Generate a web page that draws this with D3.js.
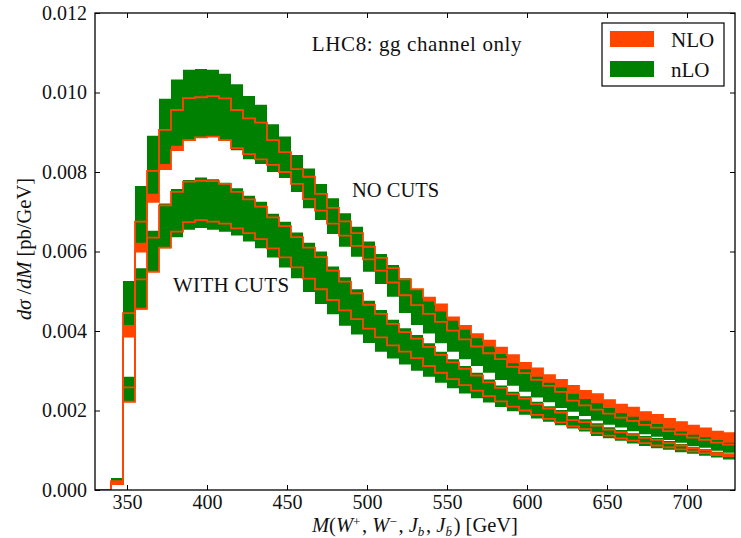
<!DOCTYPE html>
<html><head><meta charset="utf-8">
<script src="https://cdn.jsdelivr.net/npm/d3@7"></script>
<style>body{margin:0;background:#fff}text{font-family:"Liberation Serif","Times New Roman",serif;fill:#111}</style>
</head><body><svg id="c" width="741" height="538"></svg>
<script>
// ---- data ----
const binLow = 340, binWidth = 7.5; // bins 340-347.5, ... , 722.5-730
const xTicks = [350,400,450,500,550,600,650,700];
const yTicks = [0,0.002,0.004,0.006,0.008,0.010,0.012];
const legendLabels = ["NLO","nLO"];

// NO CUTS, nLO band (green)
const noCutsnLOLow = [0.00015,0.00415,0.00622,0.00745,0.0082,0.00866,0.00882,0.00888,0.00889,0.0088,0.00855,0.00832,0.0082,0.008,0.00785,0.0075,0.00709,0.00679,0.00644,0.00612,0.00587,0.00549,0.00518,0.00486,0.00445,0.00415,0.00394,0.00369,0.00348,0.00329,0.00312,0.00295,0.00277,0.00262,0.00247,0.00233,0.00221,0.00206,0.00197,0.00186,0.00174,0.00164,0.00157,0.00148,0.0014,0.00134,0.00126,0.00119,0.00111,0.00106,0.00099,0.00094];
const noCutsnLOHigh = [0.0003,0.00526,0.00765,0.00891,0.00984,0.01033,0.01057,0.01059,0.01057,0.01047,0.01021,0.00991,0.00969,0.0092,0.00889,0.00843,0.00809,0.0077,0.00734,0.00696,0.00662,0.00625,0.00594,0.00566,0.00533,0.00503,0.00474,0.00449,0.00426,0.00403,0.00382,0.00361,0.00342,0.00319,0.00304,0.00285,0.0027,0.00258,0.00242,0.00229,0.00218,0.00206,0.00193,0.00184,0.00174,0.00166,0.00155,0.00147,0.00139,0.00133,0.00126,0.00119];
// NO CUTS, NLO band (orange)
const noCutsNLOLow = [0.00015,0.00386,0.006,0.00725,0.00807,0.00855,0.0088,0.00887,0.00889,0.0088,0.0086,0.00845,0.00832,0.00818,0.008,0.0077,0.00732,0.00703,0.0067,0.0064,0.00614,0.0058,0.00552,0.00522,0.0049,0.00465,0.00443,0.00423,0.00401,0.00379,0.00361,0.00344,0.00329,0.0031,0.00294,0.00277,0.00262,0.00247,0.00225,0.00213,0.00202,0.00192,0.00182,0.00174,0.00164,0.00157,0.00148,0.0014,0.00132,0.00126,0.00119,0.00114];
const noCutsNLOHigh = [0.00022,0.00445,0.00675,0.00803,0.00906,0.00956,0.00986,0.00988,0.00991,0.00985,0.00956,0.00935,0.00924,0.0088,0.0085,0.00807,0.00788,0.00745,0.0071,0.00676,0.00646,0.00612,0.00584,0.00558,0.0053,0.00505,0.00484,0.00467,0.00434,0.00413,0.00392,0.00376,0.00358,0.00339,0.0032,0.00306,0.00289,0.00277,0.00262,0.00249,0.00241,0.00226,0.00215,0.00207,0.00196,0.00189,0.00179,0.00171,0.00162,0.00155,0.00147,0.00143];
// WITH CUTS, nLO band (green)
const withCutsnLOLow = [0.00015,0.00222,0.00454,0.00549,0.00608,0.00636,0.00655,0.00659,0.00655,0.0065,0.0064,0.00625,0.00608,0.00585,0.0056,0.00533,0.00498,0.00468,0.00442,0.00413,0.00391,0.0037,0.00348,0.00331,0.00316,0.003,0.00285,0.0027,0.00256,0.00243,0.00231,0.0022,0.00209,0.00198,0.00189,0.0018,0.00172,0.00163,0.00155,0.00147,0.00136,0.0013,0.00124,0.00117,0.00111,0.00105,0.00101,0.00095,0.00091,0.00086,0.00082,0.00077];
const withCutsnLOHigh = [0.00025,0.00285,0.00558,0.00652,0.00721,0.00757,0.0078,0.00786,0.00782,0.00773,0.00759,0.0074,0.00725,0.00695,0.00675,0.00648,0.00622,0.006,0.00562,0.00535,0.00505,0.00476,0.00453,0.00428,0.00407,0.0039,0.00369,0.00348,0.00329,0.00312,0.00295,0.00278,0.00263,0.00247,0.00236,0.00222,0.00211,0.00201,0.00186,0.00178,0.00168,0.00158,0.00151,0.00143,0.00136,0.00131,0.00123,0.00116,0.00109,0.00103,0.00096,0.00092];
// WITH CUTS, NLO band (orange)
const withCutsNLOLow = [0.00015,0.00222,0.00456,0.00549,0.0061,0.0065,0.00674,0.00679,0.00675,0.0067,0.00658,0.00646,0.00631,0.00608,0.00585,0.0056,0.00532,0.00505,0.00478,0.00452,0.0043,0.00406,0.00384,0.00364,0.00348,0.00332,0.00312,0.00295,0.00279,0.00264,0.0025,0.00236,0.00223,0.0021,0.002,0.00189,0.00179,0.0017,0.0016,0.00153,0.00143,0.00137,0.0013,0.00124,0.00118,0.00112,0.00107,0.00102,0.00097,0.00093,0.00088,0.00085];
const withCutsNLOHigh = [0.0002,0.00258,0.0053,0.00635,0.00716,0.0075,0.00776,0.00778,0.00777,0.0077,0.0075,0.00731,0.00713,0.00686,0.00664,0.00636,0.0061,0.00586,0.00552,0.00524,0.00495,0.00466,0.00443,0.00418,0.00397,0.00381,0.0036,0.0034,0.00321,0.00305,0.00288,0.00271,0.00257,0.00241,0.0023,0.00216,0.00205,0.00195,0.00176,0.00171,0.00162,0.00152,0.00145,0.00138,0.00131,0.00126,0.00118,0.00112,0.00105,0.001,0.00093,0.00089];

// ---- chart ----
const ORANGE = "#ff4500", GREEN = "#008000";
const svg = d3.select("#c");
const x = d3.scaleLinear().domain([330,730]).range([95,735]);
const y = d3.scaleLinear().domain([0,0.012]).range([490,13]);
const nb = noCutsnLOLow.length;
const edges = d3.range(nb+1).map(i => binLow + i*binWidth);

svg.append("clipPath").attr("id","clip").append("rect")
  .attr("x",x(330)).attr("y",y(0.012)).attr("width",x(730)-x(330)).attr("height",y(0)-y(0.012));
const g = svg.append("g").attr("clip-path","url(#clip)");

function bandData(lo, hi){
  const d = lo.map((v,i)=>({x:edges[i], lo:v, hi:hi[i]}));
  d.push({x:edges[nb], lo:lo[nb-1], hi:hi[nb-1]});
  return d;
}
const area = d3.area().curve(d3.curveStepAfter).x(d=>x(d.x)).y0(d=>y(d.lo)).y1(d=>y(d.hi));
function lineData(v){
  const d = [[330,0]];
  v.forEach((val,i)=>d.push([edges[i],val]));
  d.push([edges[nb], v[nb-1]]);
  return d;
}
const line = d3.line().curve(d3.curveStepAfter).x(d=>x(d[0])).y(d=>y(d[1]));

g.append("path").attr("d", area(bandData(noCutsNLOLow,noCutsNLOHigh))).attr("fill",ORANGE);
g.append("path").attr("d", area(bandData(noCutsnLOLow,noCutsnLOHigh))).attr("fill",GREEN);
g.append("path").attr("d", area(bandData(withCutsNLOLow,withCutsNLOHigh))).attr("fill",ORANGE);
g.append("path").attr("d", area(bandData(withCutsnLOLow,withCutsnLOHigh))).attr("fill",GREEN);
[noCutsNLOLow,noCutsNLOHigh,withCutsNLOLow,withCutsNLOHigh].forEach(v=>{
  g.append("path").attr("d", line(lineData(v))).attr("fill","none")
   .attr("stroke",ORANGE).attr("stroke-width",1.8);
});

// axes
const fs = "20px";
const ax = svg.append("g").attr("transform",`translate(0,${y(0)})`)
  .call(d3.axisBottom(x).tickValues(xTicks).tickSize(-5).tickPadding(5).tickFormat(d3.format("d")));
const axT = svg.append("g").attr("transform",`translate(0,${y(0.012)})`)
  .call(d3.axisTop(x).tickValues(xTicks).tickSize(-5).tickFormat(""));
const ayL = svg.append("g").attr("transform",`translate(${x(330)},0)`)
  .call(d3.axisLeft(y).tickValues(yTicks).tickSize(-5).tickPadding(8).tickFormat(d3.format(".3f")));
const ayR = svg.append("g").attr("transform",`translate(${x(730)},0)`)
  .call(d3.axisRight(y).tickValues(yTicks).tickSize(-5).tickFormat(""));
[ax,axT,ayL,ayR].forEach(a=>{
  a.select(".domain").remove();
  a.selectAll(".tick line").attr("stroke","#000").attr("stroke-width",1);
  a.selectAll("text").style("font-size",fs).style("font-family","Liberation Serif, serif").attr("fill","#111");
});
svg.append("rect").attr("x",x(330)).attr("y",y(0.012)).attr("width",x(730)-x(330)).attr("height",y(0)-y(0.012))
  .attr("fill","none").attr("stroke","#000").attr("stroke-width",1.3);

// texts
svg.append("text").attr("x",417).attr("y",51).attr("text-anchor","middle").style("font-size","21px").style("letter-spacing","0.6px").text("LHC8: gg channel only");
svg.append("text").attr("x",352).attr("y",197).style("font-size","20.5px").text("NO CUTS");
svg.append("text").attr("x",173).attr("y",292).style("font-size","21px").style("letter-spacing","0.3px").text("WITH CUTS");

// y label
const yl = svg.append("text").attr("transform","translate(31,249) rotate(-90)").attr("text-anchor","middle").style("font-size","20.5px");
yl.append("tspan").style("font-style","italic").text("dσ");
yl.append("tspan").text(" /");
yl.append("tspan").style("font-style","italic").text("dM");
yl.append("tspan").text(" [pb/GeV]");

// x label
const xl = svg.append("text").attr("x",415).attr("y",532).attr("text-anchor","middle").style("font-size","20.5px");
function it(t){ xl.append("tspan").style("font-style","italic").text(t); }
function rm(t){ xl.append("tspan").text(t); }
function sup(t){ xl.append("tspan").attr("dy",-6).style("font-size","13px").text(t); xl.append("tspan").attr("dy",6).text("\u200a"); }
function sub(t){ xl.append("tspan").attr("dy",4).style("font-size","13px").style("font-style","italic").text(t); xl.append("tspan").attr("dy",-4).text("\u200a"); }
it("M"); rm("("); it("W"); sup("+"); rm(", "); it("W"); sup("\u2212"); rm(", "); it("J"); sub("b"); rm(", "); it("J"); sub("b\u0304"); rm(")  [GeV]");

// legend
const lg = svg.append("g");
lg.append("rect").attr("x",602).attr("y",23).attr("width",122).attr("height",63).attr("fill","#fff").attr("stroke","#000").attr("stroke-width",1.2);
[ORANGE,GREEN].forEach((c,i)=>{
  lg.append("rect").attr("x",610).attr("y",31+i*30).attr("width",44).attr("height",16).attr("fill",c);
  lg.append("text").attr("x",671).attr("y",47+i*30).style("font-size","21px").text(legendLabels[i]);
});
</script></body></html>
